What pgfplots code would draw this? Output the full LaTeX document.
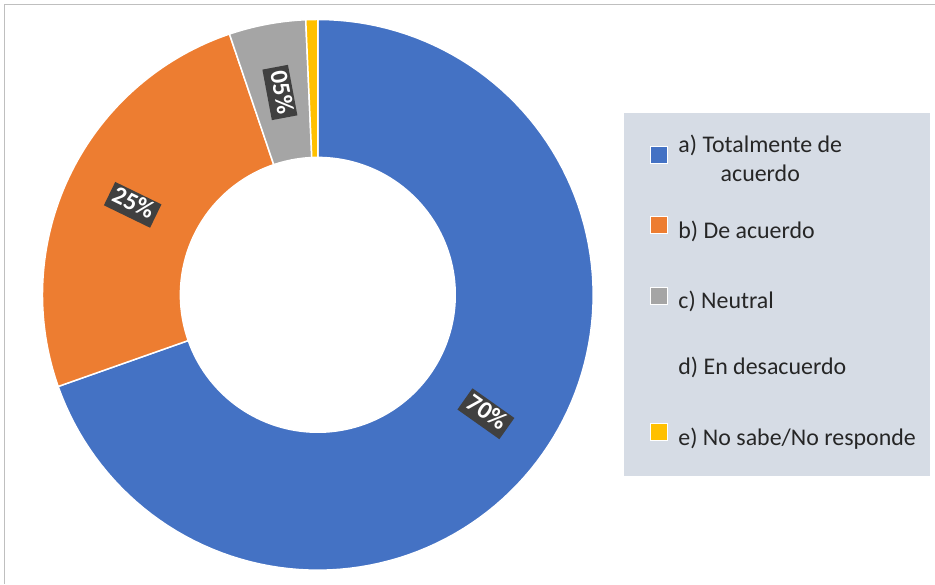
\documentclass[border=0pt]{standalone}
\usepackage{pgfplots}
\usepackage{pgfplotstable}
\pgfplotsset{compat=1.18}
\usepackage{fontspec}
\setmainfont{Carlito}

\definecolor{cA}{HTML}{4472C4}
\definecolor{cB}{HTML}{ED7D31}
\definecolor{cC}{HTML}{A5A5A5}
\definecolor{cD}{HTML}{FFFFFF}
\definecolor{cE}{HTML}{FFC000}
\definecolor{legbg}{HTML}{D6DCE5}
\definecolor{lblbg}{HTML}{404040}
\definecolor{frame}{HTML}{BFBFBF}

\pgfplotstableread{
key value
a 69.6
b 25.2
c 4.5
d 0
e 0.7
}\donutdata

% one ring slice from angle #1 to angle #2 (degrees), colour #3
\newcommand{\slice}[3]{%
  \addplot[fill=#3, draw=white, line width=1.5pt, forget plot,
    samples at={0,1,...,240}, variable=\t]
  ({318+(\t<=120 ? 275.5 : 137.5)*cos(\t<=120 ? (#1)+((#2)-(#1))*\t/120 : (#2)+((#1)-(#2))*(\t-121)/119)},
   {289+(\t<=120 ? 275.5 : 137.5)*sin(\t<=120 ? (#1)+((#2)-(#1))*\t/120 : (#2)+((#1)-(#2))*(\t-121)/119)}) -- cycle;%
}

\begin{document}
\begin{tikzpicture}
\pgfplotstablegetelem{0}{value}\of\donutdata \let\va\pgfplotsretval
\pgfplotstablegetelem{1}{value}\of\donutdata \let\vb\pgfplotsretval
\pgfplotstablegetelem{2}{value}\of\donutdata \let\vc\pgfplotsretval
\pgfplotstablegetelem{3}{value}\of\donutdata \let\vd\pgfplotsretval
\pgfplotstablegetelem{4}{value}\of\donutdata \let\ve\pgfplotsretval
\pgfmathsetmacro\aA{90}
\pgfmathsetmacro\aB{\aA-3.6*\va}
\pgfmathsetmacro\aC{\aB-3.6*\vb}
\pgfmathsetmacro\aD{\aC-3.6*\vc}
\pgfmathsetmacro\aE{\aD-3.6*\vd}
\pgfmathsetmacro\aF{\aE-3.6*\ve}
\pgfmathsetmacro\mA{(\aA+\aB)/2}
\pgfmathsetmacro\mB{(\aB+\aC)/2}
\pgfmathsetmacro\mC{(\aC+\aD)/2}
\pgfmathsetmacro\rB{\mB+180}
\pgfmathsetmacro\rC{\mC+180}
\begin{axis}[
  width=935bp, height=584bp, scale only axis,
  xmin=0, xmax=935, ymin=0, ymax=584,
  hide axis, clip=false,
  legend style={at={(0.69519,0.7500)}, anchor=north west,
    draw=none, fill=none, inner sep=0pt, outer sep=0pt,
    row sep=42.5bp, column sep=11bp,
    nodes={inner sep=0pt, text height=18bp, text depth=6bp,
      font=\fontsize{24}{29}\selectfont, text=black!85}},
  legend cell align=left,
  legend image code/.code={\draw[#1, draw=white, line width=0.8pt] (0bp,-1.5bp) rectangle (17bp,15.5bp);},
]
\path (axis cs:0,0) rectangle (axis cs:935,584);
\draw[frame, line width=1pt] (axis cs:5,0) -- (axis cs:5,579.5) -- (axis cs:935,579.5);
\fill[legbg] (axis cs:624,108) rectangle (axis cs:930,471);

\slice{\aA}{\aB}{cA}
\slice{\aB}{\aC}{cB}
\slice{\aC}{\aD}{cC}
\slice{\aE}{\aF}{cE}

\node[fill=lblbg, text=white, font=\bfseries\fontsize{25}{28}\selectfont,
  inner xsep=4bp, inner ysep=0pt, text height=19bp, text depth=7bp, rotate=\mA]
  at (axis cs:{318+206*cos(\mA)},{289+206*sin(\mA)}) {70\%};
\node[fill=lblbg, text=white, font=\bfseries\fontsize{25}{28}\selectfont,
  inner xsep=4bp, inner ysep=0pt, text height=19bp, text depth=7bp, rotate=\rB]
  at (axis cs:{318+206*cos(\mB)},{289+206*sin(\mB)}) {25\%};
\node[fill=lblbg, text=white, font=\bfseries\fontsize{25}{28}\selectfont,
  inner xsep=4bp, inner ysep=0pt, text height=19bp, text depth=7bp, rotate=\rC]
  at (axis cs:{318+206*cos(\mC)},{289+206*sin(\mC)}) {05\%};

\addlegendimage{fill=cA}
\addlegendentry{\raisebox{0pt}[18bp][6bp]{\begin{tabular}{@{}c@{}}a) Totalmente de\\acuerdo\end{tabular}}}
\addlegendimage{fill=cB}
\addlegendentry{b) De acuerdo}
\addlegendimage{fill=cC}
\addlegendentry{c) Neutral}
\addlegendimage{empty legend}
\addlegendentry{d) En desacuerdo}
\addlegendimage{fill=cE}
\addlegendentry{e) No sabe/No responde}
\end{axis}
\end{tikzpicture}
\end{document}
